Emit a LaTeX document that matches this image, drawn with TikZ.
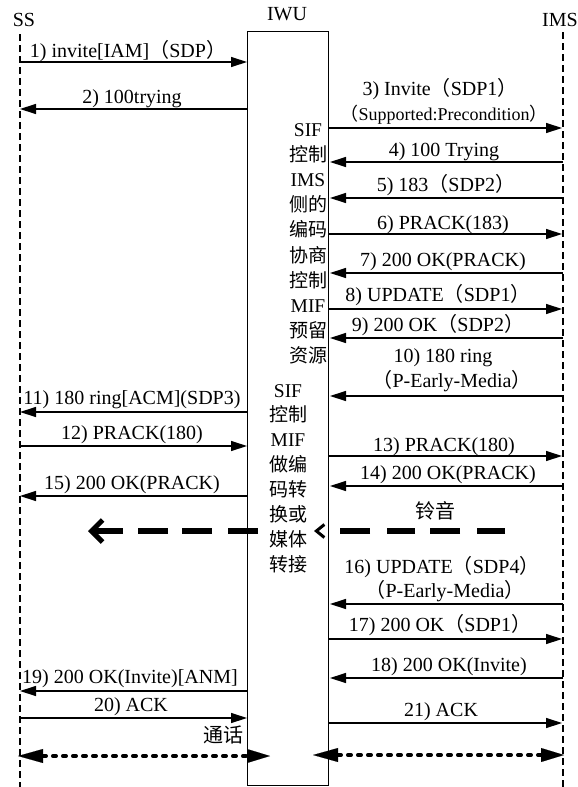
\documentclass[tikz,border=0pt]{standalone}
\usepackage{fontspec}
\setmainfont{Liberation Serif}
\newfontfamily\cjk{Noto Sans CJK SC}
\usetikzlibrary{arrows.meta}
\newcommand{\LP}{{\cjk （}}
\newcommand{\RP}{{\cjk ）}}
\newcommand{\bc}{\cjk\fontsize{19}{25}\selectfont}
\begin{document}
\begin{tikzpicture}[x=1pt,y=-1pt,
  msg/.style={line width=1.3pt,-{Triangle[length=16pt,width=10pt]}},
  life/.style={line width=1.2pt,dash pattern=on 7pt off 4pt},
  lbl/.style={font=\fontsize{20}{22}\selectfont,inner sep=0pt,anchor=base},
  sml/.style={font=\fontsize{18}{20}\selectfont,inner sep=0pt,anchor=base},
  head/.style={font=\fontsize{20}{22}\selectfont,inner sep=0pt,anchor=base},
  col/.style={font=\fontsize{19.5}{25}\selectfont,inner sep=0pt,anchor=base},
  ring/.style={line width=5.5pt},
  talk/.style={line width=4pt,line cap=round,dash pattern=on 3pt off 7pt,
    {Triangle[length=25pt,width=14pt,line width=0.1pt]}-{Triangle[length=23pt,width=14pt,line width=0.1pt]}},
]
\useasboundingbox (0,0) rectangle (578,787);
% headers
\node[head] (hss) at (24,27) {SS};
\node[head] (hiwu) at (287,20) {IWU};
\node[head] (hims) at (560,27) {IMS};
% lifelines
\coordinate (ssT) at (20,34); \coordinate (ssB) at (20,787);
\coordinate (imsT) at (563,32); \coordinate (imsB) at (563,787);
\draw[life] (ssT) -- (ssB);
\draw[life] (imsT) -- (imsB);
% IWU box
\node[draw,line width=1.3pt,minimum width=81pt,minimum height=754pt,inner sep=0pt,anchor=north west] (iwu) at (247,31) {};
% messages
\foreach \n/\xa/\xb/\yy in {
 1/20/247/62, 2/247/20/109, 3/328/562/128, 4/563/330/162, 5/563/330/198,
 6/328/562/234, 7/563/330/273, 8/328/562/309, 9/563/330/338, 10/563/330/396,
 11/247/20/412, 12/20/247/446, 13/328/562/456, 14/563/330/486, 15/247/20/496,
 16/563/330/604, 17/328/562/639, 18/563/330/678, 19/247/20/691, 20/20/247/718,
 21/328/562/723}
{ \coordinate (m\n-s) at (\xa,\yy); \coordinate (m\n-e) at (\xb,\yy);
  \draw[msg] (m\n-s) -- (m\n-e); }
% labels
\node[lbl] (t1) at (128,57) {1) invite[IAM]\LP SDP\RP};
\node[lbl] (t2) at (132,103) {2) 100trying};
\node[lbl] (t3) at (440,95) {3) Invite\LP SDP1\RP};
\node[sml] (t3b) at (444,120) {\LP Supported:Precondition\RP};
\node[lbl] (t4) at (444,156) {4) 100 Trying};
\node[lbl] (t5) at (446,191) {5) 183\LP SDP2\RP};
\node[lbl] (t6) at (443,229) {6) PRACK(183)};
\node[lbl] (t7) at (443,266) {7) 200 OK(PRACK)};
\node[lbl] (t8) at (438,301) {8) UPDATE\LP SDP1\RP};
\node[lbl] (t9) at (438,331) {9) 200 OK\LP SDP2\RP};
\node[lbl] (t10) at (443,362) {10) 180 ring};
\node[lbl] (t10b) at (452,387) {\LP P-Early-Media\RP};
\node[lbl] (t11) at (132,404) {11) 180 ring[ACM](SDP3)};
\node[lbl] (t12) at (132,439) {12) PRACK(180)};
\node[lbl] (t13) at (444,451) {13) PRACK(180)};
\node[lbl] (t14) at (448,479) {14) 200 OK(PRACK)};
\node[lbl] (t15) at (132,489) {15) 200 OK(PRACK)};
\node[lbl] (t16) at (442,573) {16) UPDATE\LP SDP4\RP};
\node[lbl] (t16b) at (445,597) {\LP P-Early-Media\RP};
\node[lbl] (t17) at (440,631) {17) 200 OK\LP SDP1\RP};
\node[lbl] (t18) at (449,671) {18) 200 OK(Invite)};
\node[lbl] (t19) at (130,683) {19) 200 OK(Invite)[ANM]};
\node[lbl] (t20) at (131,711) {20) ACK};
\node[lbl] (t21) at (441,716) {21) ACK};
% box text column 1
\foreach \t [count=\i] in {SIF,{\bc 控制},IMS,{\bc 侧的},{\bc 编码},{\bc 协商},{\bc 控制},MIF,{\bc 预留},{\bc 资源}}
  \node[col] (ca\i) at (308,{136+25.2*(\i-1)}) {\t};
% box text column 2
\foreach \t [count=\i] in {SIF,{\bc 控制},MIF,{\bc 做编},{\bc 码转},{\bc 换或},{\bc 媒体},{\bc 转接}}
  \node[col] (cb\i) at (288,{397+24.9*(\i-1)}) {\t};
% ring tone
\coordinate (rL1) at (258,531); \coordinate (rL2) at (88,531);
\coordinate (rR1) at (505,531); \coordinate (rR2) at (314,531);
\draw[ring,dash pattern=on 30pt off 16pt on 30pt off 14pt on 30pt off 15pt on 200pt,
  -{Straight Barb[length=11pt,width=22pt,line width=5pt]}] (rL1) -- (rL2);
\draw[ring,dash pattern=on 28pt off 17pt on 30pt off 15pt on 28pt off 17pt on 30pt off 200pt,
  -{Straight Barb[length=8pt,width=13pt,line width=3pt]}] (rR1) -- (rR2);
\node[lbl,font=\cjk\fontsize{20}{22}\selectfont] (tring) at (435,518) {铃音};
% talk
\coordinate (tk1) at (18,756); \coordinate (tk2) at (270,756);
\coordinate (tk3) at (313,755); \coordinate (tk4) at (564,755);
\draw[talk] (tk1) -- (tk2);
\draw[talk] (tk3) -- (tk4);
\node[lbl,font=\cjk\fontsize{20}{22}\selectfont] (ttalk) at (223,742) {通话};
\end{tikzpicture}
\end{document}
